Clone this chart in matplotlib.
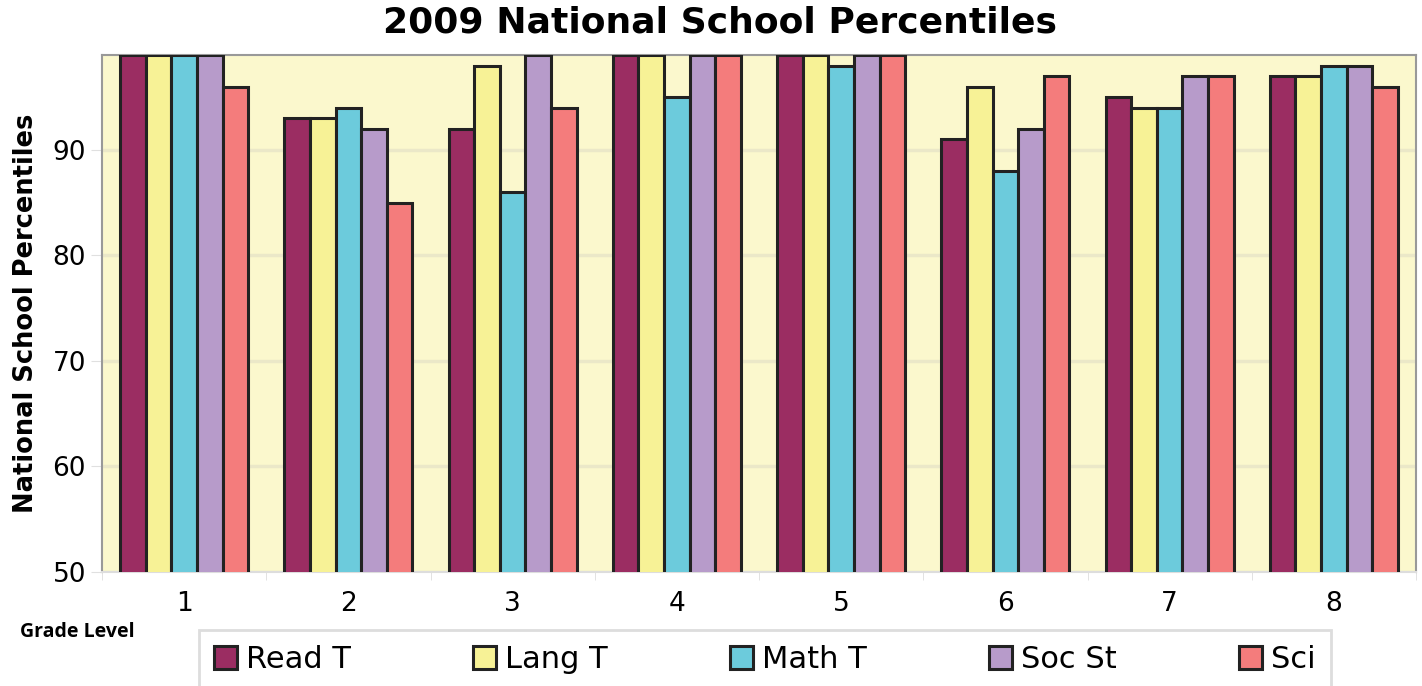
import matplotlib.pyplot as plt
import numpy as np

# Data
grades = ["1", "2", "3", "4", "5", "6", "7", "8"]
read_t = [99, 93, 92, 99, 99, 91, 95, 97]
lang_t = [99, 93, 98, 99, 99, 96, 94, 97]
math_t = [99, 94, 86, 95, 98, 88, 94, 98]
soc_st = [99, 92, 99, 99, 99, 92, 97, 98]
sci = [96, 85, 94, 99, 99, 97, 97, 96]

series = [("Read T", read_t, "#9b2d62"),
          ("Lang T", lang_t, "#f7f296"),
          ("Math T", math_t, "#6ccbdc"),
          ("Soc St", soc_st, "#b79bca"),
          ("Sci", sci, "#f47c7c")]


def main():
    plt.rcParams['font.family'] = ['DejaVu Sans']
    fig = plt.figure(figsize=(14.22, 6.86), dpi=100)
    ax = fig.add_axes([102 / 1422, 1 - 572 / 686, 1314 / 1422, 517 / 686])
    ax.set_facecolor("#fbf8cd")

    x = np.arange(len(grades))
    width = 0.156
    for i, (name, vals, color) in enumerate(series):
        ax.bar(x + (i - 2) * width, vals, width, color=color,
               edgecolor="#222222", linewidth=2.2, label=name, zorder=3)

    ax.set_xlim(-0.5, len(grades) - 0.5)
    ax.set_ylim(50, 99)
    ax.set_yticks([50, 60, 70, 80, 90])
    ax.yaxis.grid(True, color="#ebe8c8", linewidth=2.5, zorder=0)
    ax.set_xticks(x)
    ax.set_xticklabels(grades)
    ax.set_xticks(np.arange(len(grades) + 1) - 0.5, minor=True)
    ax.tick_params(axis="x", which="major", length=0, labelsize=19, pad=14)
    ax.tick_params(axis="x", which="minor", length=6, color="#dddddd")
    ax.tick_params(axis="y", length=8, color="#e0e0e0", labelsize=19)
    for s in ax.spines.values():
        s.set_color("#999999")
        s.set_linewidth(1.5)
    ax.spines["bottom"].set_color("#dddddd")

    ax.set_ylabel("National School Percentiles", fontsize=18.5,
                  fontweight="bold", labelpad=10)
    fig.suptitle("2009 National School Percentiles", fontsize=26,
                 fontweight="bold", x=0.506, y=0.992)
    fig.text(20 / 1422, 1 - 632 / 686, "Grade Level", fontsize=14,
             fontweight="bold", family="Open Sans", va="center")

    # Legend box sits below the axis, top near y=630px
    leg = fig.legend(loc="upper center", ncol=5,
                     bbox_to_anchor=(765 / 1422, 1 - 630 / 686),
                     fontsize=22, frameon=True, fancybox=False,
                     framealpha=1, handlelength=0.75, handleheight=0.75,
                     handletextpad=0.3, borderpad=0.5, borderaxespad=0,
                     columnspacing=4.0)
    leg.get_frame().set_edgecolor("#dddddd")
    leg.get_frame().set_linewidth(2)

    fig.savefig("out.png", dpi=100)


if __name__ == "__main__":
    main()
